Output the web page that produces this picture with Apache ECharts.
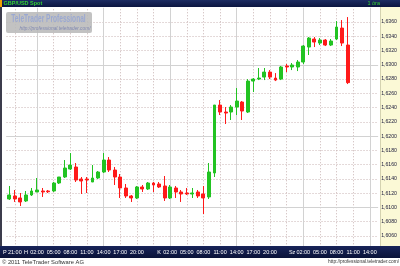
<!DOCTYPE html>
<html><head><meta charset="utf-8">
<script src="https://cdn.jsdelivr.net/npm/echarts@6/dist/echarts.min.js"></script>
<style>html,body{margin:0;padding:0;background:#fff}#c{width:400px;height:266px}</style>
</head><body><div id="c"></div>
<script>
// ---- data ----
const title = 'GBP/USD Spot';
const period = '1 óra';
const hours = ["20:00","21:00","22:00",
 "00:00","01:00","02:00","03:00","04:00","05:00","06:00","07:00","08:00","09:00","10:00","11:00","12:00","13:00","14:00","15:00","16:00","17:00","18:00","19:00","20:00","21:00","22:00","23:00",
 "00:00","01:00","02:00","03:00","04:00","05:00","06:00","07:00","08:00","09:00","10:00","11:00","12:00","13:00","14:00","15:00","16:00","17:00","18:00","19:00","20:00","21:00","22:00","23:00",
 "00:00","01:00","02:00","03:00","04:00","05:00","06:00","07:00","08:00","09:00","10:00","11:00","12:00","13:00","14:00","15:00"];
const xTickLabels = ["P","21:00","",
 "H","","02:00","","","05:00","","","08:00","","","11:00","","","14:00","","","17:00","","","20:00","","","",
 "K","","02:00","","","05:00","","","08:00","","","11:00","","","14:00","","","17:00","","","20:00","","","",
 "Sz","","02:00","","","05:00","","","08:00","","","11:00","","","14:00",""];
const opens = [1.61119,1.61161,1.61133,1.61091,1.61175,1.61217,1.61231,1.61231,1.61231,1.61343,
 1.61427,1.61539,1.61567,1.61399,1.61399,1.61357,1.61413,1.61497,1.61665,1.61525,
 1.61427,1.61273,1.61161,1.61133,1.61287,1.61259,1.61343,1.61329,1.61301,1.61133,
 1.61273,1.61217,1.61203,1.61189,1.61217,1.61189,1.61147,1.61483,1.62436,1.62338,
 1.62338,1.62408,1.62478,1.62338,1.62772,1.62800,1.62828,1.62898,1.62814,1.62800,
 1.62983,1.62969,1.62969,1.63039,1.63249,1.63361,1.63305,1.63347,1.63277,1.63361,
 1.63515,1.63277];
const closes = [1.61175,1.61119,1.61077,1.61175,1.61231,1.61245,1.61217,1.61220,1.61343,1.61427,
 1.61553,1.61595,1.61385,1.61371,1.61385,1.61413,1.61497,1.61665,1.61525,1.61427,
 1.61273,1.61161,1.61133,1.61287,1.61259,1.61343,1.61315,1.61287,1.61133,1.61287,
 1.61217,1.61189,1.61189,1.61203,1.61161,1.61133,1.61497,1.62436,1.62338,1.62324,
 1.62408,1.62492,1.62352,1.62772,1.62800,1.62814,1.62898,1.62828,1.62786,1.62969,
 1.62969,1.62997,1.63039,1.63263,1.63375,1.63319,1.63347,1.63277,1.63333,1.63529,
 1.63305,1.62750];
const lows = [1.61105,1.61077,1.61020,1.61077,1.61161,1.61217,1.61147,1.61203,1.61217,1.61329,
 1.61413,1.61525,1.61357,1.61189,1.61203,1.61357,1.61399,1.61483,1.61497,1.61315,
 1.61133,1.61133,1.61077,1.61119,1.61217,1.61245,1.61217,1.61273,1.61091,1.61119,
 1.61133,1.61077,1.61175,1.61133,1.61133,1.60908,1.61119,1.61427,1.62296,1.62170,
 1.62226,1.62296,1.62226,1.62324,1.62618,1.62786,1.62786,1.62800,1.62772,1.62786,
 1.62898,1.62926,1.62912,1.63011,1.63137,1.63249,1.63277,1.63263,1.63263,1.63347,
 1.63263,1.62730];
const highs = [1.61301,1.61245,1.61203,1.61231,1.61273,1.61413,1.61273,1.61245,1.61357,1.61427,
 1.61665,1.61763,1.61623,1.61427,1.61427,1.61595,1.61511,1.61763,1.61707,1.61567,
 1.61469,1.61329,1.61175,1.61301,1.61315,1.61357,1.61357,1.61357,1.61441,1.61315,
 1.61301,1.61245,1.61273,1.61273,1.61245,1.61301,1.61623,1.62436,1.62506,1.62408,
 1.62436,1.62674,1.62492,1.62800,1.62814,1.62955,1.62955,1.62926,1.62884,1.62983,
 1.63011,1.63025,1.63067,1.63277,1.63389,1.63389,1.63375,1.63361,1.63361,1.63613,
 1.63627,1.63669];
const yMin = 1.604, yMax = 1.638, yStep = 0.002;
const majorPriceLines = [1.61, 1.62, 1.63];
const majorHours = ["02:00", "14:00"];
const copyright = '© 2011 TeleTrader Software AG';
const url = 'http://professional.teletrader.com/';
const brand = 'TeleTrader Professional';

// ---- build ----
const candles = opens.map((o, i) => [o, closes[i], lows[i], highs[i]]);
const fmt = v => v.toFixed(4).replace('.', ',');
const vMinor = [], vMajor = [];
hours.forEach((h, i) => {
  if (majorHours.indexOf(h) >= 0) vMajor.push(i);
  else if (xTickLabels[i].indexOf(':') >= 0 || h === '23:00') vMinor.push(i);
});
const last = closes[closes.length - 1];
const dotted = { type: [1, 2], color: '#c9b4b4', width: 1 };
const solid = { type: 'solid', color: '#d2d2d2', width: 1 };
const mlData = [].concat(
  vMinor.map(i => ({ xAxis: i, lineStyle: dotted })),
  vMajor.map(i => ({ xAxis: i, lineStyle: solid })),
  majorPriceLines.map(v => ({ yAxis: v, lineStyle: solid })),
  [{ yAxis: last, lineStyle: { opacity: 0 },
     label: { show: true, position: 'end', distance: 0, formatter: fmt(last),
       backgroundColor: '#ffff00', color: '#222', fontSize: 5.2, fontFamily: 'Liberation Sans',
       padding: [1, 3, 1, 3], lineHeight: 6 } }]
);

const chart = echarts.init(document.getElementById('c'), null, { renderer: 'canvas' });
chart.setOption({
  animation: false,
  backgroundColor: '#ffffff',
  grid: { left: 4, right: 20, top: 7.73, bottom: 15.73 },
  xAxis: [
    { type: 'category', data: hours, position: 'bottom', boundaryGap: true,
      axisLine: { show: false }, axisTick: { show: false }, axisLabel: { show: false }, splitLine: { show: false } },
    { type: 'category', data: hours, position: 'bottom', boundaryGap: true, z: 30,
      axisLine: { show: false }, axisTick: { show: false }, splitLine: { show: false },
      axisLabel: { show: true, interval: (i) => xTickLabels[i] !== '', margin: 2, verticalAlign: 'middle',
        color: '#ffffff', fontSize: 5.5, fontFamily: 'Liberation Sans',
        formatter: (v, i) => i === 0 ? '{p|' + xTickLabels[i] + '}' : xTickLabels[i],
        rich: { p: { padding: [0, 9, 0, 0], color: '#ffffff', fontSize: 5.5, fontFamily: 'Liberation Sans' } } } }
  ],
  yAxis: {
    type: 'value', position: 'right', min: yMin, max: yMax, interval: yStep, z: 2, scale: true,
    axisLine: { show: false }, axisTick: { show: false },
    axisLabel: { margin: 3, fontSize: 5.2, color: '#1b1b3a', fontFamily: 'Liberation Sans',
      formatter: v => (Math.abs(v - yMin) < 1e-9 || Math.abs(v - yMax) < 1e-9) ? '' : fmt(v) },
    splitLine: { show: true, showMinLine: false, showMaxLine: false, lineStyle: dotted }
  },
  series: [{
    type: 'candlestick', data: candles, xAxisIndex: 0, yAxisIndex: 0, z: 6,
    barWidth: 3.4,
    itemStyle: { color: '#22c322', color0: '#ff1a1a', borderColor: '#22c322', borderColor0: '#ff1a1a', borderWidth: 1 },
    markLine: { silent: true, z: 5, symbol: ['none', 'none'], animation: false,
      label: { show: false }, data: mlData }
  }],
  graphic: [
    { type: 'rect', z: 1, silent: true, shape: { x: 380, y: 7, width: 20, height: 239 }, style: { fill: '#fbf9d6' } },
    { type: 'rect', z: 1, silent: true, shape: { x: 380, y: 7, width: 1, height: 239 }, style: { fill: '#d4d2b0' } },
    { type: 'rect', z: 10, silent: true, shape: { x: 6, y: 12, width: 86, height: 21, r: 2 }, style: { fill: 'rgba(185,185,185,0.88)' } },
    { type: 'text', z: 11, silent: true, x: 48.5, y: 19.5, scaleX: 0.66,
      style: { text: brand, fill: '#9aa8d2', font: 'bold 10px "Liberation Sans"', align: 'center', verticalAlign: 'middle', textAlign: 'center', textVerticalAlign: 'middle' } },
    { type: 'text', z: 11, silent: true, x: 55, y: 28.5,
      style: { text: url, fill: '#8189b2', font: 'italic 4.8px "Liberation Sans"', align: 'center', verticalAlign: 'middle', textAlign: 'center', textVerticalAlign: 'middle' } },
    { type: 'rect', z: 20, silent: true, shape: { x: 0, y: 0, width: 400, height: 7 },
      style: { fill: new echarts.graphic.LinearGradient(0, 0, 0, 1, [{ offset: 0, color: '#1d2c62' }, { offset: 1, color: '#0b1540' }]) } },
    { type: 'rect', z: 21, silent: true, shape: { x: 0, y: 0, width: 2, height: 7 }, style: { fill: '#f0a000' } },
    { type: 'text', z: 21, silent: true, x: 3.5, y: 3.7,
      style: { text: title, fill: '#33d033', font: 'bold 5.5px "Liberation Sans"', verticalAlign: 'middle', textVerticalAlign: 'middle' } },
    { type: 'text', z: 21, silent: true, x: 380, y: 3.7,
      style: { text: period, fill: '#33d033', font: '5.5px "Liberation Sans"', align: 'right', textAlign: 'right', verticalAlign: 'middle', textVerticalAlign: 'middle' } },
    { type: 'rect', z: 20, silent: true, shape: { x: 0, y: 7, width: 2, height: 239 }, style: { fill: '#3c3c4c' } },
    { type: 'rect', z: 20, silent: true, shape: { x: 0, y: 246, width: 400, height: 12 },
      style: { fill: new echarts.graphic.LinearGradient(0, 0, 0, 1, [{ offset: 0, color: '#18245a' }, { offset: 1, color: '#0a1238' }]) } },
    { type: 'text', z: 21, silent: true, x: 2, y: 262,
      style: { text: copyright, fill: '#333333', font: '5.8px "Liberation Sans"', verticalAlign: 'middle', textVerticalAlign: 'middle' } },
    { type: 'text', z: 21, silent: true, x: 399, y: 262,
      style: { text: url, fill: '#333333', font: '4.8px "Liberation Sans"', align: 'right', textAlign: 'right', verticalAlign: 'middle', textVerticalAlign: 'middle' } }
  ]
});
</script></body></html>
